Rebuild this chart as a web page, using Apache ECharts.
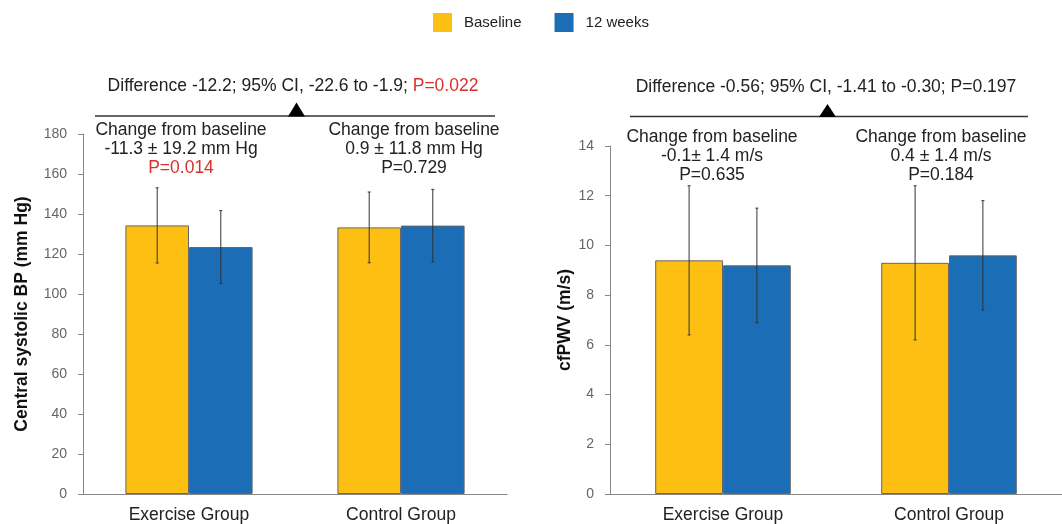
<!DOCTYPE html>
<html>
<head>
<meta charset="utf-8">
<script src="https://cdn.jsdelivr.net/npm/echarts@6/dist/echarts.min.js"></script>
<style>html,body{margin:0;padding:0;background:#fff;}#c{width:1062px;height:524px;}</style>
</head>
<body>
<div id="c"></div>
<script>
const categories = ['Exercise Group', 'Control Group'];
const seriesNames = ['Baseline', '12 weeks'];
const bpBaseline = [134.3, 133.3];
const bpBaselineSD = [18.8, 17.7];
const bp12w = [123.5, 134.2];
const bp12wSD = [18.2, 18.1];
const pwvBaseline = [9.4, 9.3];
const pwvBaselineSD = [3.0, 3.1];
const pwv12w = [9.2, 9.6];
const pwv12wSD = [2.3, 2.2];
const bpTicks = {min: 0, max: 180, interval: 20};
const pwvTicks = {min: 0, max: 14, interval: 2};

const YELLOW = '#FDBF12', BLUE = '#1B6DB5', RED = '#D8312B';
const FONT = '"Liberation Sans", Arial, sans-serif';
const FS = 17.5;

function errSeries(means, sds, gridIdx, side) {
  return {
    type: 'custom', xAxisIndex: gridIdx, yAxisIndex: gridIdx, z: 5, silent: true,
    data: means.map((m, i) => [i, m - sds[i], m + sds[i]]),
    renderItem: function (params, api) {
      const band = api.size([1, 0])[0];
      const lo = api.coord([api.value(0), api.value(1)]);
      const hi = api.coord([api.value(0), api.value(2)]);
      const x = lo[0] + side * band * 0.15;
      return {
        type: 'group', children: [
          {type: 'line', shape: {x1: x, y1: lo[1], x2: x, y2: hi[1]}, style: {stroke: '#333', lineWidth: 1}},
          {type: 'line', shape: {x1: x - 1.5, y1: lo[1], x2: x + 1.5, y2: lo[1]}, style: {stroke: '#333', lineWidth: 1}},
          {type: 'line', shape: {x1: x - 1.5, y1: hi[1], x2: x + 1.5, y2: hi[1]}, style: {stroke: '#333', lineWidth: 1}}
        ]
      };
    }
  };
}
function barSeries(name, data, color, gridIdx) {
  return {
    name: name, type: 'bar', xAxisIndex: gridIdx, yAxisIndex: gridIdx,
    data: data, barWidth: '30%', barGap: '0%',
    itemStyle: {color: color, borderColor: '#666', borderWidth: 1}
  };
}
function xAx(gridIdx) {
  return {
    type: 'category', gridIndex: gridIdx, data: categories,
    axisLine: {lineStyle: {color: '#888', width: 1}},
    axisTick: {show: false},
    axisLabel: {color: '#222', fontSize: FS, fontFamily: FONT, margin: 12}
  };
}
function yAx(gridIdx, t, name, gap) {
  return {
    type: 'value', gridIndex: gridIdx, min: t.min, max: t.max, interval: t.interval,
    name: name, nameLocation: 'middle', nameGap: gap,
    nameTextStyle: {color: '#111', fontSize: FS, fontWeight: 'bold', fontFamily: FONT},
    axisLine: {show: true, lineStyle: {color: '#888', width: 1}},
    axisTick: {show: true, length: 5, lineStyle: {color: '#888'}},
    splitLine: {show: false},
    axisLabel: {color: '#666', fontSize: 14, fontFamily: FONT, margin: 16}
  };
}
function txt(x, y, text, color) {
  return {type: 'text', x: x, y: y, style: {text: text, fill: color || '#222', font: FS + 'px ' + FONT, align: 'center', verticalAlign: 'middle'}};
}
function richTxt(x, y, text, rich) {
  return {type: 'text', x: x, y: y, style: {text: text, rich: rich, fill: '#222', font: FS + 'px ' + FONT, align: 'center', verticalAlign: 'middle'}};
}

const richRed = {r: {fill: RED, font: FS + 'px ' + FONT}};
const graphics = [
  richTxt(293, 86, 'Difference -12.2; 95% CI, -22.6 to -1.9; {r|P=0.022}', richRed),
  {type: 'line', shape: {x1: 95, y1: 116, x2: 495, y2: 116}, style: {stroke: '#333', lineWidth: 1.5}},
  {type: 'polygon', shape: {points: [[288, 116.5], [296.5, 102.5], [305, 116.5]]}, style: {fill: '#000'}},
  txt(181, 130, 'Change from baseline'),
  txt(181, 149, '-11.3 \u00b1 19.2 mm Hg'),
  txt(181, 168, 'P=0.014', RED),
  txt(414, 130, 'Change from baseline'),
  txt(414, 149, '0.9 \u00b1 11.8 mm Hg'),
  txt(414, 168, 'P=0.729'),

  txt(826, 87, 'Difference -0.56; 95% CI, -1.41 to -0.30; P=0.197'),
  {type: 'line', shape: {x1: 630, y1: 116.5, x2: 1028, y2: 116.5}, style: {stroke: '#333', lineWidth: 1.5}},
  {type: 'polygon', shape: {points: [[819, 117], [827.5, 104], [836, 117]]}, style: {fill: '#000'}},
  txt(712, 137, 'Change from baseline'),
  txt(712, 156, '-0.1\u00b1 1.4 m/s'),
  txt(712, 175, 'P=0.635'),
  txt(941, 137, 'Change from baseline'),
  txt(941, 156, '0.4 \u00b1 1.4 m/s'),
  txt(941, 175, 'P=0.184')
];

const chart = echarts.init(document.getElementById('c'), null, {renderer: 'canvas'});
chart.setOption({
  animation: false,
  backgroundColor: '#fff',
  textStyle: {fontFamily: FONT},
  legend: {
    data: seriesNames, left: 433, top: 13, padding: 0, icon: 'rect', itemWidth: 19, itemHeight: 19, itemGap: 33,
    itemStyle: {borderWidth: 0},
    textStyle: {color: '#222', fontSize: 15, fontFamily: FONT, padding: [0, 0, 0, 7]}
  },
  grid: [
    {left: 83, right: 555, top: 134, bottom: 30},
    {left: 610, right: 0, top: 146, bottom: 29}
  ],
  xAxis: [xAx(0), xAx(1)],
  yAxis: [yAx(0, bpTicks, 'Central systolic BP (mm Hg)', 52), yAx(1, pwvTicks, 'cfPWV (m/s)', 35)],
  series: [
    barSeries(seriesNames[0], bpBaseline, YELLOW, 0),
    barSeries(seriesNames[1], bp12w, BLUE, 0),
    barSeries(seriesNames[0], pwvBaseline, YELLOW, 1),
    barSeries(seriesNames[1], pwv12w, BLUE, 1),
    errSeries(bpBaseline, bpBaselineSD, 0, -1),
    errSeries(bp12w, bp12wSD, 0, 1),
    errSeries(pwvBaseline, pwvBaselineSD, 1, -1),
    errSeries(pwv12w, pwv12wSD, 1, 1)
  ],
  graphic: graphics
});
</script>
</body>
</html>
